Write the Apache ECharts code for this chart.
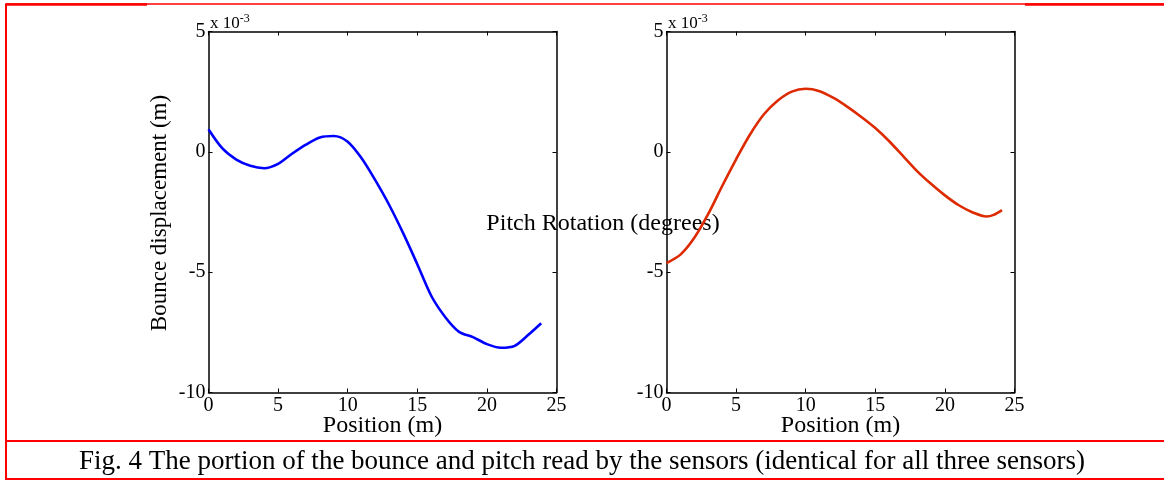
<!DOCTYPE html>
<html>
<head>
<meta charset="utf-8">
<script src="https://cdn.jsdelivr.net/npm/echarts@6/dist/echarts.min.js"></script>
<style>
  html, body { margin: 0; padding: 0; background: #fff; }
  #chart { width: 1164px; height: 481px; }
</style>
</head>
<body>
<div id="chart"></div>
<script>
// values in units of 1e-3 (as on the axis)
const bouncePos = [0, 1, 2, 3, 4, 5, 6, 7, 8, 9, 10, 11, 12, 13, 14, 15, 16, 17, 18, 19, 20, 21, 22, 23, 23.9];
const bounceVal = [0.94, 0.14, -0.32, -0.58, -0.68, -0.5, -0.08, 0.3, 0.6, 0.66, 0.42, -0.27, -1.2, -2.23, -3.4, -4.67, -5.98, -6.86, -7.48, -7.7, -7.99, -8.14, -8.06, -7.59, -7.12];
const pitchPos = [0, 1, 2, 3, 4, 5, 6, 7, 8, 9, 10, 11, 12, 13, 14, 15, 16, 17, 18, 19, 20, 21, 22, 23, 23.5, 24.1];
const pitchVal = [-4.62, -4.27, -3.57, -2.58, -1.42, -0.31, 0.72, 1.56, 2.13, 2.5, 2.62, 2.52, 2.24, 1.87, 1.45, 0.99, 0.44, -0.18, -0.8, -1.33, -1.81, -2.22, -2.52, -2.69, -2.62, -2.42];
const xTicks = [0, 5, 10, 15, 20, 25];
const yTicks = [-10, -5, 0, 5];

const serif = "'Liberation Serif', 'Times New Roman', serif";
const chart = echarts.init(document.getElementById('chart'));

const grids = [
  { left: 208.5, top: 31.5, width: 348, height: 361 },
  { left: 666.5, top: 31.5, width: 348, height: 361 }
];

function xAxes(gi) {
  const base = {
    gridIndex: gi, type: 'value', min: xTicks[0], max: xTicks[xTicks.length - 1], interval: 5,
    splitLine: { show: false },
    axisLine: { show: true, onZero: false, lineStyle: { color: '#000', width: 1.5 } },
    axisTick: { show: true, inside: true, length: 4, lineStyle: { color: '#000', width: 1 } }
  };
  return [
    Object.assign({}, base, {
      position: 'bottom',
      axisLabel: { color: '#000', fontFamily: serif, fontSize: 20, margin: 3 },
      name: 'Position (m)', nameLocation: 'middle', nameGap: 21, nameMoveOverlap: false,
      nameTextStyle: { color: '#000', fontFamily: serif, fontSize: 24 }
    }),
    Object.assign({}, base, { position: 'top', axisLabel: { show: false } })
  ];
}
function yAxes(gi) {
  const base = {
    gridIndex: gi, type: 'value', min: yTicks[0], max: yTicks[yTicks.length - 1], interval: 5,
    splitLine: { show: false },
    axisLine: { show: true, onZero: false, lineStyle: { color: '#000', width: 1.5 } },
    axisTick: { show: true, inside: true, length: 4, lineStyle: { color: '#000', width: 1 } }
  };
  return [
    Object.assign({}, base, {
      position: 'left',
      axisLabel: { color: '#000', fontFamily: serif, fontSize: 20, margin: 3 }
    }),
    Object.assign({}, base, { position: 'right', axisLabel: { show: false } })
  ];
}

function zip(xs, ys) { return xs.map((x, i) => [x, ys[i]]); }

const red = '#ff0000';
const expRich = {
  a: { fontFamily: serif, fontSize: 17, fill: '#000' },
  b: { fontFamily: serif, fontSize: 12, fill: '#000', verticalAlign: 'top', padding: [0, 0, 10, 0] }
};
const option = {
  animation: false,
  grid: grids,
  xAxis: [...xAxes(0), ...xAxes(1)],
  yAxis: [...yAxes(0), ...yAxes(1)],
  series: [
    {
      type: 'line', xAxisIndex: 0, yAxisIndex: 0, data: zip(bouncePos, bounceVal),
      smooth: 0.3, showSymbol: false, lineStyle: { color: '#0000ff', width: 2.6 }
    },
    {
      type: 'line', xAxisIndex: 2, yAxisIndex: 2, data: zip(pitchPos, pitchVal),
      smooth: 0.3, showSymbol: false, lineStyle: { color: '#dd2a00', width: 2.6 }
    }
  ],
  graphic: [
    // red frame lines
    { type: 'line', shape: { x1: 6, y1: 4, x2: 1164, y2: 4 }, style: { stroke: red, lineWidth: 1.3 } },
    { type: 'line', shape: { x1: 5, y1: 4.5, x2: 147, y2: 4.5 }, style: { stroke: red, lineWidth: 2.5 } },
    { type: 'line', shape: { x1: 1025, y1: 4.5, x2: 1164, y2: 4.5 }, style: { stroke: red, lineWidth: 2.5 } },
    { type: 'line', shape: { x1: 6, y1: 4, x2: 6, y2: 480 }, style: { stroke: red, lineWidth: 2 } },
    { type: 'line', shape: { x1: 6, y1: 441, x2: 1164, y2: 441 }, style: { stroke: red, lineWidth: 2 } },
    { type: 'line', shape: { x1: 6, y1: 479, x2: 1164, y2: 479 }, style: { stroke: red, lineWidth: 2 } },
    // y axis title
    {
      type: 'text', x: 160, y: 213, rotation: Math.PI / 2,
      style: { text: 'Bounce displacement (m)', fontFamily: serif, fontSize: 23, fill: '#000', textAlign: 'center', textVerticalAlign: 'middle' }
    },
    {
      type: 'text', z: -1, x: 603, y: 224,
      style: { text: 'Pitch Rotation (degrees)', fontFamily: serif, fontSize: 24, fill: '#000', textAlign: 'center', textVerticalAlign: 'middle' }
    },
    // exponent labels
    { type: 'text', x: 210, y: 24, style: { text: '{a|x 10}{b|-3}', textVerticalAlign: 'middle', rich: expRich } },
    { type: 'text', x: 668, y: 24, style: { text: '{a|x 10}{b|-3}', textVerticalAlign: 'middle', rich: expRich } },
    {
      type: 'text', x: 582, y: 462,
      style: { text: 'Fig. 4 The portion of the bounce and pitch read by the sensors (identical for all three sensors)', fontFamily: serif, fontSize: 27, fill: '#000', textAlign: 'center', textVerticalAlign: 'middle' }
    }
  ]
};
chart.setOption(option);
</script>
</body>
</html>
